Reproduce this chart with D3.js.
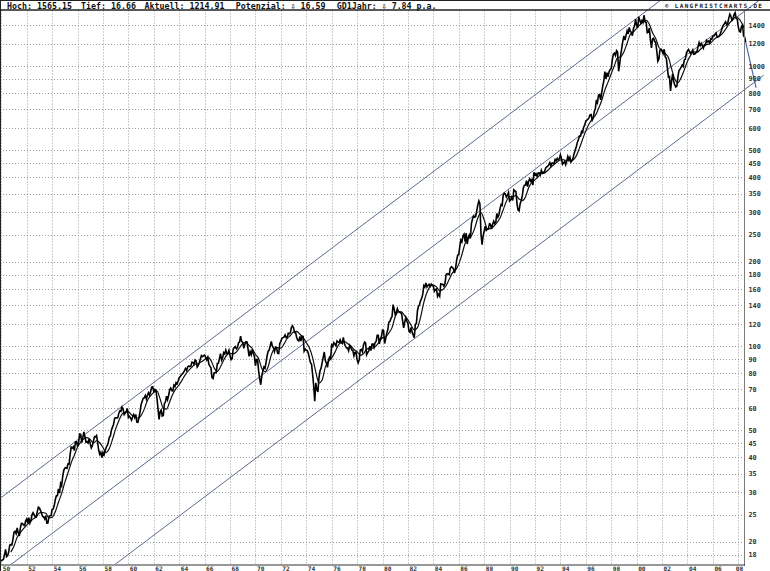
<!DOCTYPE html>
<html><head><meta charset="utf-8">
<script src="https://cdn.jsdelivr.net/npm/d3@7/dist/d3.min.js"></script>
<style>html,body{margin:0;padding:0;background:#fff;overflow:hidden}</style>
</head><body><svg id="c" width="770" height="571"></svg>
<script>
// ---- monthly closes (one value per month, Jan..Dec) ----
const closes1950s = [
17.05,17.22,17.29,17.96,18.78,17.69,17.84,18.42,19.45,19.53,19.51,20.41,
21.66,21.80,21.40,22.43,21.52,20.96,22.40,23.28,23.26,22.94,22.88,23.77,
24.14,23.26,24.37,23.32,23.86,24.96,25.40,25.03,24.54,24.52,25.66,26.57,
26.38,25.90,25.29,24.62,24.54,24.14,24.75,23.32,23.35,24.54,24.76,24.81,
26.08,26.15,26.94,28.26,29.19,29.21,30.88,29.83,32.31,31.68,34.24,35.98,
36.63,36.76,36.58,37.96,37.91,41.03,43.52,43.18,43.67,42.34,45.51,45.48,
43.82,45.34,48.48,48.38,45.20,46.97,49.39,47.51,45.35,45.58,45.08,46.67,
44.72,43.26,44.11,45.74,47.43,47.37,47.91,45.22,42.42,41.06,41.72,39.99,
41.70,40.84,42.10,43.44,44.09,45.24,47.19,47.75,50.06,51.33,52.48,55.21,
55.42,55.41,55.44,57.59,58.68,58.47,60.51,59.60,56.88,57.52,58.28,59.89];
const closes1960s = [
55.61,56.12,55.34,54.37,55.83,56.92,55.51,56.96,53.52,53.39,55.54,58.11,
61.78,63.44,65.06,65.31,66.56,64.64,66.76,68.07,66.73,68.62,71.32,71.55,
68.84,69.96,69.55,65.24,59.63,54.75,58.23,59.12,56.27,56.52,62.26,63.10,
66.20,64.29,66.57,69.80,70.80,69.37,69.13,72.50,71.70,74.01,73.23,75.02,
77.04,77.80,78.98,79.46,80.37,81.69,83.18,81.83,84.18,84.86,84.42,84.75,
87.56,87.43,86.16,89.11,88.42,84.12,85.25,87.17,89.96,92.42,91.61,92.43,
92.88,91.22,89.23,91.06,86.13,84.74,83.60,77.10,76.56,80.20,80.45,80.33,
86.61,86.78,90.20,94.01,89.08,90.64,94.75,93.64,96.71,93.90,94.00,96.47,
92.24,89.36,90.20,97.59,98.68,99.58,97.74,98.86,102.67,103.41,108.37,103.86,
103.01,98.13,101.51,103.69,103.46,97.71,91.83,95.51,93.12,97.24,93.81,92.06];
const closes1970s = [
85.02,89.50,89.63,81.52,76.55,72.72,78.05,81.52,84.21,83.25,87.20,92.15,
95.88,96.75,100.31,103.95,99.63,98.70,95.58,99.03,98.34,94.23,93.99,102.09,
103.94,106.57,107.20,107.67,109.53,107.14,107.39,111.09,110.55,111.58,116.67,118.05,
116.03,111.68,111.52,106.97,104.95,104.26,108.22,104.25,108.43,108.29,95.96,97.55,
96.57,96.22,93.98,90.31,87.28,86.00,79.31,72.15,63.54,73.90,69.97,68.56,
76.98,81.59,83.36,87.30,91.15,95.19,88.75,86.88,83.87,89.04,91.24,90.19,
100.86,99.71,102.77,101.64,100.18,104.28,103.44,102.91,105.24,102.90,102.10,107.46,
102.03,99.82,98.42,98.44,96.12,100.48,98.85,96.77,96.53,92.34,94.83,95.10,
89.25,87.04,89.21,96.83,97.24,95.53,100.68,103.29,102.54,93.15,94.70,96.11,
99.93,96.28,101.59,101.76,99.08,102.91,103.81,109.32,109.32,101.82,106.16,107.94];
const closes1980s = [
114.16,113.66,102.09,106.29,111.24,114.24,121.67,122.38,125.46,127.47,140.52,135.76,
129.55,131.27,136.00,132.81,132.59,131.21,130.92,122.79,116.18,121.89,126.35,122.55,
120.40,113.11,111.96,116.44,111.88,109.61,107.09,119.51,120.42,133.71,138.54,140.64,
145.30,148.06,152.96,164.42,162.39,168.11,162.56,164.40,166.07,163.55,166.40,164.93,
163.41,157.06,159.18,160.05,150.55,153.18,150.66,166.68,166.10,166.09,163.58,167.24,
179.63,181.18,180.66,179.83,189.55,191.85,190.92,188.63,182.08,189.82,202.17,211.28,
211.78,226.92,238.90,235.52,247.35,250.84,236.12,252.93,231.32,243.98,249.22,242.17,
274.08,284.20,291.70,288.36,290.10,304.00,318.66,329.80,321.83,251.79,230.30,247.08,
257.07,267.82,258.89,261.33,262.16,273.50,272.02,261.52,271.91,278.97,273.70,277.72,
297.47,288.86,294.87,309.64,320.52,317.98,346.08,351.45,349.15,340.36,345.99,353.40];
const closes1990s = [
329.08,331.89,339.94,330.80,361.23,358.02,356.15,322.56,306.05,304.00,322.22,330.22,
343.93,367.07,375.22,375.34,389.83,371.16,387.81,395.43,387.86,392.46,375.22,417.09,
408.79,412.70,403.69,414.95,415.35,408.14,424.21,414.03,417.80,418.68,431.35,435.71,
438.78,443.38,451.67,440.19,450.19,450.53,448.13,463.56,458.93,467.83,461.79,466.45,
481.61,467.14,445.77,450.91,456.50,444.27,458.26,475.49,462.69,472.35,453.69,459.27,
470.42,487.39,500.71,514.71,533.40,544.75,562.06,561.88,584.41,581.50,605.37,615.93,
636.02,640.43,645.50,654.17,669.12,670.63,639.95,651.99,687.31,705.27,757.02,740.74,
786.16,790.82,757.12,801.34,848.28,885.14,954.29,899.47,947.28,914.62,955.40,970.43,
980.28,1049.34,1101.75,1111.75,1090.82,1133.84,1120.67,957.28,1017.01,1098.67,1163.63,1229.23,
1279.64,1238.33,1286.37,1335.18,1301.84,1372.71,1328.72,1320.41,1282.71,1362.93,1388.91,1469.25];
const closes2000s = [
1394.46,1366.42,1498.58,1452.43,1420.60,1454.60,1430.83,1517.68,1436.51,1429.40,1314.95,1320.28,
1366.01,1239.94,1160.33,1249.46,1255.82,1224.38,1211.23,1133.58,1040.94,1059.78,1139.45,1148.08,
1130.20,1106.73,1147.39,1076.92,1067.14,989.82,911.62,916.07,815.28,885.76,936.31,879.82,
855.70,841.15,848.18,916.92,963.59,974.50,990.31,1008.01,995.97,1050.71,1058.20,1111.92,
1131.13,1144.94,1126.21,1107.30,1120.68,1140.84,1101.72,1104.24,1114.58,1130.20,1173.82,1211.92,
1181.27,1203.60,1180.59,1156.85,1191.50,1191.33,1234.18,1220.33,1228.81,1207.01,1249.48,1248.29,
1280.08,1280.66,1294.83,1310.61,1270.09,1270.20,1276.66,1303.82,1335.85,1377.94,1400.63,1418.30,
1438.24,1406.82,1420.86,1482.37,1530.62,1503.35,1455.27,1473.99,1526.75,1549.38,1481.14,1468.36,
1378.55,1330.63,1322.70,1385.59,1400.38,1280.00,1267.38,1214.91];

// ---- moving average, quarterly (Jan, Apr, Jul, Oct) ----
const ma1950s = [
null,null,null,18.37, 19.31,20.77,21.57,22.27, 22.95,23.49,24.14,24.50, 25.38,25.44,25.27,24.32,
24.47,25.61,27.69,29.79, 32.60,35.27,38.30,40.77, 43.57,45.38,46.63,47.11, 46.41,45.06,45.90,45.16,
43.42,41.66,43.07,46.40, 50.59,54.12,57.09,58.09];
const ma1960s = [
58.35,56.75,56.20,55.23, 56.47,59.52,63.96,66.47, 68.32,68.98,64.72,59.91, 59.56,63.13,67.41,70.49,
72.75,75.90,79.19,81.82, 84.06,86.06,86.60,87.83, 89.48,91.35,88.91,83.58, 81.20,84.39,89.05,92.87,
94.04,93.81,95.23,98.59, 102.19,103.08,100.40,98.01];
const ma1970s = [
93.29,90.24,83.13,80.93, 84.37,92.96,97.87,98.72, 98.24,101.75,106.44,109.02, 112.31,112.88,110.21,107.11,
102.94,98.41,90.90,80.81, 73.80,75.65,84.11,88.19, 90.75,94.92,100.38,102.92, 103.80,102.05,100.20,97.24,
95.52,92.64,93.86,97.31, 98.24,98.26,100.18,103.70];
const ma1980s = [
106.93,107.68,111.41,116.36, 127.13,132.36,132.51,128.05, 124.04,118.61,114.13,116.33, 126.85,143.01,155.56,163.06,
164.93,162.58,157.38,159.06, 164.15,173.04,182.61,186.67, 196.07,212.31,232.34,242.12, 247.58,263.13,286.66,299.53,
282.57,262.01,262.48,267.54, 275.85,286.64,306.64,328.76];
const ma1990s = [
341.69,340.08,345.06,334.84, 330.39,340.51,367.57,384.39, 391.98,401.60,413.12,414.61, 423.59,434.70,444.82,453.88,
462.35,462.55,458.86,458.28, 462.06,477.65,509.09,547.93, 586.49,620.42,646.47,665.49, 704.88,753.22,820.49,875.94,
938.36,1003.86,1069.86,1078.97, 1125.00,1206.01,1296.50,1323.86];
const ma2000s = [
1365.01,1401.96,1435.90,1455.08, 1408.78,1314.61,1253.43,1166.94, 1135.96,1106.19,1072.24,976.25, 898.80,872.39,908.77,968.52,
1040.09,1090.80,1123.09,1118.22, 1144.82,1169.10,1193.90,1201.33, 1232.44,1262.47,1278.93,1305.00, 1352.71,1410.13,1456.98,1492.82,
1479.60,1430.39,1354.20];

// ---- trend channel (value at start and end year) ----
const channelYears = [1950, 2010];
const channelUpper = [28.8, 3254];
const channelMiddle = [15.63, 1766];
const channelLower = [8.2, 927];

// ---- current-price drop line ----
const aktuellYears = [2008.583, 2009.4];
const aktuellValues = [1214.91, 835];

// ---- ticks & texts ----
const yTicks = [18,20,25,30,35,40,45,50,60,70,80,90,100,120,140,160,180,200,250,300,350,400,450,500,600,700,800,900,1000,1200,1400];
const xTickYears = [1950,1952,1954,1956,1958,1960,1962,1964,1966,1968,1970,1972,1974,1976,1978,1980,1982,1984,1986,1988,1990,1992,1994,1996,1998,2000,2002,2004,2006,2008];
const xTickLabels = ["50","52","54","56","58","60","62","64","66","68","70","72","74","76","78","80","82","84","86","88","90","92","94","96","98","00","02","04","06","08"];
const headerTexts = ["Hoch: 1565.15","Tief: 16.66","Aktuell: 1214.91","Potenzial: \u21E9 16.59","GD1Jahr: \u21E9 7.84 p.a."];
const copyrightText = "\u00A9 LANGFRISTCHARTS.DE";

// ================= drawing =================
const svg = d3.select("#c");
const W = 770, H = 571;
const plotLeft = 0, plotRight = 744.5, plotTop = 10.5, plotBottom = 565;
const mono = "'DejaVu Sans Mono','Liberation Mono',monospace";

const x = d3.scaleLinear().domain([1950, 2008]).range([1.3, 738.3]);
const y = d3.scaleLog().domain([16.66, 1565.15]).range([564, 11.5]);

svg.append("rect").attr("width", W).attr("height", H).attr("fill", "#fff");

// grid
const grid = svg.append("g").attr("stroke", "#9c9c9c").attr("stroke-width", 1).attr("stroke-dasharray", "1,2");
grid.selectAll("line.h").data(yTicks).join("line").attr("class", "h")
  .attr("x1", plotLeft).attr("x2", plotRight)
  .attr("y1", d => Math.round(y(d)) + 0.5).attr("y2", d => Math.round(y(d)) + 0.5);
grid.selectAll("line.v").data(xTickYears).join("line").attr("class", "v")
  .attr("x1", d => Math.round(x(d)) + 0.5).attr("x2", d => Math.round(x(d)) + 0.5)
  .attr("y1", plotTop).attr("y2", plotBottom);

// channel lines
svg.append("clipPath").attr("id", "chclip").append("rect")
  .attr("x", 0).attr("y", 0).attr("width", W).attr("height", 564);
const chLine = d3.line().x(d => x(d[0])).y(d => y(d[1]));
const channels = [channelUpper, channelMiddle, channelLower];
svg.append("g").attr("clip-path", "url(#chclip)")
  .selectAll("path").data(channels).join("path")
  .attr("d", c => chLine(channelYears.map((t, i) => [t, c[i]])))
  .attr("fill", "none").attr("stroke", "#5a6c8c").attr("stroke-width", 1);

// moving average
const maVals = [].concat(ma1950s, ma1960s, ma1970s, ma1980s, ma1990s, ma2000s);
const maData = maVals.map((v, i) => ({ t: 1950 + i / 4, v })).filter(d => d.v != null);
svg.append("path").datum(maData)
  .attr("d", d3.line().x(d => x(d.t)).y(d => y(d.v)).curve(d3.curveMonotoneX))
  .attr("fill", "none").attr("stroke", "#111").attr("stroke-width", 1.2);

// price
const priceVals = [].concat(closes1950s, closes1960s, closes1970s, closes1980s, closes1990s, closes2000s);
const priceData = priceVals.map((v, i) => ({ t: 1950 + i / 12, v }));
svg.append("path").datum(priceData)
  .attr("d", d3.line().x(d => x(d.t)).y(d => y(d.v)))
  .attr("fill", "none").attr("stroke", "#000").attr("stroke-width", 1.6).attr("stroke-linejoin", "miter");

// current drop line
svg.append("path").datum(aktuellYears.map((t, i) => [t, aktuellValues[i]]))
  .attr("d", chLine).attr("fill", "none").attr("stroke", "#3f5ea8").attr("stroke-width", 1.1);

// frame
svg.append("line").attr("x1", plotRight).attr("x2", plotRight).attr("y1", plotTop).attr("y2", plotBottom + 1)
  .attr("stroke", "#7a7a7a").attr("stroke-width", 1);
svg.append("line").attr("x1", 0).attr("x2", plotRight + 0.5).attr("y1", plotBottom).attr("y2", plotBottom)
  .attr("stroke", "#333").attr("stroke-width", 1.2);
svg.append("line").attr("x1", 0.5).attr("x2", 0.5).attr("y1", 0).attr("y2", H).attr("stroke", "#222").attr("stroke-width", 1);
svg.append("line").attr("x1", 0).attr("x2", W).attr("y1", 0.5).attr("y2", 0.5).attr("stroke", "#222").attr("stroke-width", 1);
svg.append("line").attr("x1", 0).attr("x2", W).attr("y1", 10).attr("y2", 10).attr("stroke", "#222").attr("stroke-width", 1.5);

// y axis
const yAxis = d3.axisRight(y).tickValues(yTicks).tickFormat(d => String(d)).tickSize(0).tickPadding(4);
const gy = svg.append("g").attr("transform", `translate(${plotRight},0)`).call(yAxis);
gy.select(".domain").remove();
gy.selectAll("text").attr("font-family", mono).attr("font-size", 6.8).attr("font-weight", "bold").attr("fill", "#333");

// x axis
const lastIdx = xTickYears.length - 1;
const xAxis = d3.axisBottom(x).tickValues(xTickYears).tickFormat((d, i) => xTickLabels[i]).tickSize(0).tickPadding(0);
const gx = svg.append("g").attr("transform", `translate(0,${plotBottom})`).call(xAxis);
gx.select(".domain").remove();
gx.selectAll("text").attr("text-anchor", "start")
  .attr("x", (d, i) => i === lastIdx ? -3 : 1).attr("y", 5.6).attr("dy", 0)
  .attr("font-family", mono).attr("font-size", 6.2).attr("font-weight", "bold").attr("fill", "#333");

// header
const headerX = [7, 81, 144.5, 235.7, 336.7];
svg.append("g").selectAll("text").data(headerTexts).join("text")
  .attr("x", (d, i) => headerX[i]).attr("y", 8.6)
  .attr("font-family", mono).attr("font-size", 8.3).attr("font-weight", "bold").attr("fill", "#111")
  .text(d => d);
svg.append("text").attr("x", 665).attr("y", 8.2)
  .attr("font-family", mono).attr("font-size", 6).attr("font-weight", "bold").attr("letter-spacing", 1.3)
  .attr("fill", "#222").text(copyrightText);
</script>
</body></html>
